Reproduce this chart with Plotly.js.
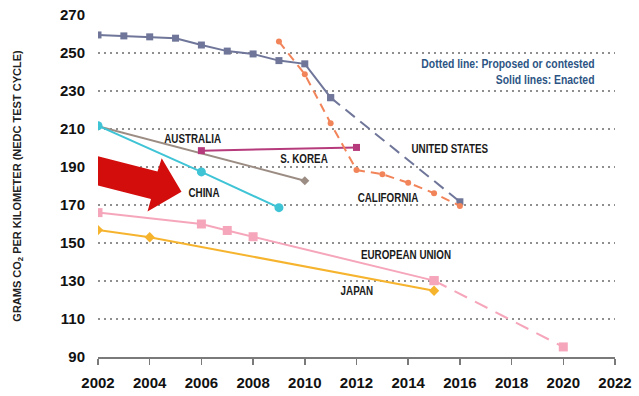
<!DOCTYPE html>
<html>
<head>
<meta charset="utf-8">
<script src="https://cdn.plot.ly/plotly-3.0.1.min.js"></script>
<style>
html,body{margin:0;padding:0;background:#fff;}
#chart{width:639px;height:396px;}
#chart .annotation-text.lbl-c{transform-box:fill-box;transform-origin:center center;transform:scaleX(0.82);}
#chart .annotation-text.lbl-r{transform-box:fill-box;transform-origin:right center;transform:scaleX(0.8);}
</style>
</head>
<body>
<div id="chart"></div>
<script>
// ---- Data ----
const usYearsEnacted = [2002, 2003, 2004, 2005, 2006, 2007, 2008, 2009, 2010, 2011];
const usValuesEnacted = [259.5, 259, 258.5, 257.8, 254.2, 251, 249.5, 246, 244.3, 226.5];
const usYearsProposed = [2011, 2016];
const usValuesProposed = [226.5, 171.7];

const caYears = [2009, 2010, 2011, 2012, 2013, 2014, 2015, 2016];
const caValues = [256, 238.8, 213, 188.4, 186.2, 181.7, 176.2, 169.5];

const koreaYears = [2006, 2012];
const koreaValues = [198.6, 200.3];

const australiaYears = [2002, 2010];
const australiaValues = [211.5, 182.8];

const chinaYears = [2002, 2006, 2009];
const chinaValues = [211.7, 187.4, 168.6];

const euYearsEnacted = [2002, 2006, 2007, 2008, 2015];
const euValuesEnacted = [166, 160, 156.6, 153.3, 130.2];
const euYearsProposed = [2015, 2020];
const euValuesProposed = [130.2, 95.3];

const japanYears = [2002, 2004, 2015];
const japanValues = [156.8, 153, 124.9];

const xTickVals = [2002, 2004, 2006, 2008, 2010, 2012, 2014, 2016, 2018, 2020, 2022];
const yTickVals = [90, 110, 130, 150, 170, 190, 210, 230, 250, 270];

const labelNames = ["AUSTRALIA", "S. KOREA", "CHINA", "UNITED STATES", "CALIFORNIA", "EUROPEAN UNION", "JAPAN"];
const labelX = [2005.66, 2009.95, 2006.1, 2015.62, 2013.2, 2013.9, 2012.0];
const labelY = [204.7, 194.2, 176.2, 199.5, 173.8, 143.7, 124.9];

const noteLines = ["Dotted line: Proposed or contested", "Solid lines: Enacted"];
const noteX = [2021.3, 2021.3];
const noteY = [244.6, 235.8];

// ---- Styles ----
const C = {
  us: '#6f7699', ca: '#f2845a', korea: '#b63b7c', australia: '#9c8d84',
  china: '#3fc4d6', eu: '#f6a6bb', japan: '#f6b42e'
};
const sans = '"Liberation Sans", Arial, sans-serif';

function tr(x, y, color, symbol, size, dash, width) {
  return {
    x: x, y: y, type: 'scatter', mode: 'lines+markers', hoverinfo: 'skip',
    line: {color: color, width: width || 2, dash: dash || 'solid'},
    marker: {color: color, symbol: symbol, size: size},
    showlegend: false
  };
}

const data = [
  tr(australiaYears, australiaValues, C.australia, 'diamond', 7),
  tr(koreaYears, koreaValues, C.korea, 'square', 7),
  tr(chinaYears, chinaValues, C.china, 'circle', 9),
  tr(usYearsProposed, usValuesProposed, C.us, 'square', 7, '12px,7px'),
  tr(usYearsEnacted, usValuesEnacted, C.us, 'square', 7),
  tr(caYears, caValues, C.ca, 'circle', 6, '9px,6px'),
  tr(euYearsProposed, euValuesProposed, C.eu, 'square', 9, '14px,9px'),
  tr(euYearsEnacted, euValuesEnacted, C.eu, 'square', 9),
  tr(japanYears, japanValues, C.japan, 'diamond', 8)
];

const annotations = labelNames.map((t, i) => ({
  x: labelX[i], y: labelY[i], xref: 'x', yref: 'y', text: t, showarrow: false,
  font: {family: sans, size: 12, color: '#1a1a1a', weight: 'bold'}
}));
noteLines.forEach((t, i) => annotations.push({
  x: noteX[i], y: noteY[i], xref: 'x', yref: 'y', xanchor: 'right', text: t,
  showarrow: false, font: {family: sans, size: 13, color: '#2d5584', weight: 'bold'}
}));

// red arrow decoration (pixel -> data conversion)
function px2x(px) { return 2002 + (px - 98) / 25.85; }
function px2y(py) { return 270 - (py - 15) / 1.9; }
const arrowPx = [[90.8,154.5],[157.5,171.5],[161.7,158.3],[181.5,191.7],[147.5,211.5],[151,199],[84.2,182]];
const arrowPath = arrowPx.map((p, i) => (i ? 'L' : 'M') + px2x(p[0]).toFixed(3) + ',' + px2y(p[1]).toFixed(3)).join(' ') + ' Z';

const layout = {
  width: 639, height: 396,
  margin: {l: 98, r: 24, t: 15, b: 39},
  paper_bgcolor: '#fff', plot_bgcolor: '#fff',
  font: {family: sans, color: '#111'},
  xaxis: {
    range: [2002, 2022], tickvals: xTickVals, showgrid: false, zeroline: false,
    showline: true, linecolor: '#7a7a7a', linewidth: 1.5,
    ticks: 'outside', ticklen: 6, tickcolor: '#7a7a7a', tickwidth: 1.5,
    tickfont: {size: 15, weight: 'bold', color: '#111'}, ticklabelstandoff: 5
  },
  yaxis: {
    range: [90, 270], tickvals: yTickVals, zeroline: false, showline: false,
    showgrid: true, gridcolor: '#8f8f8f', gridwidth: 1.5, griddash: '1.5px,4.5px',
    tickfont: {size: 15, weight: 'bold', color: '#111'}, ticklabelstandoff: 12,
    title: {text: 'GRAMS CO<sub>2</sub> PER KILOMETER (NEDC TEST CYCLE)', standoff: 36,
            font: {size: 11, weight: 'bold', color: '#222'}}
  },
  shapes: [{
    type: 'path', xref: 'x', yref: 'y', path: arrowPath,
    fillcolor: '#d30c0c', line: {width: 0}, layer: 'above'
  }],
  annotations: annotations
};

Plotly.newPlot('chart', data, layout, {staticPlot: true}).then(function (gd) {
  const texts = gd.querySelectorAll('.annotation-text');
  texts.forEach(function (el, i) {
    el.classList.add(i < labelNames.length ? 'lbl-c' : 'lbl-r');
  });
});
</script>
</body>
</html>
